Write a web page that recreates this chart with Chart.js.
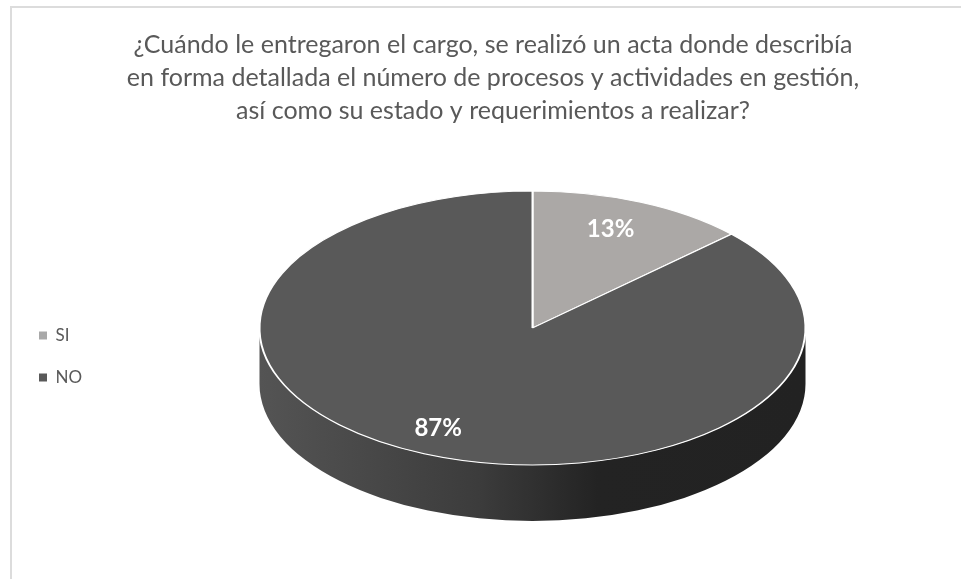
<!DOCTYPE html>
<html>
<head>
<meta charset="utf-8">
<title>Acta de entrega del cargo</title>
<script src="https://cdn.jsdelivr.net/npm/chart.js@4"></script>
<style>
    html, body { margin: 0; padding: 0; background: #fff; overflow: hidden; }
    #frame { position: absolute; left: 10px; top: 6px; right: 0; bottom: 0; border-left: 2px solid #dcdcdc; border-top: 2px solid #dcdcdc; }
    #pie { position: absolute; left: 0; top: 0; }
</style>
</head>
<body>
<div id="frame"></div>
<canvas id="pie" width="961" height="579"></canvas>
<script>
var titleLines = [
    "¿Cuándo le entregaron el cargo, se realizó un acta donde describía",
    "en forma detallada el número de procesos y actividades en gestión,",
    "así como su estado y requerimientos a realizar?"
];
var categories = ["SI", "NO"];
var percentages = [13, 87];
var sliceColors = ["#aba8a6", "#595959"];
var legendColors = ["#a8a8a8", "#595959"];

// how the flat pie is laid over as a tilted disc
var centerX = 532.5, centerY = 328;
var radiusX = 273, radiusY = 137, depth = 56;
// where the percent sits along the slice's middle angle
var labelReachX = [0.72, 0.87], labelReachY = [0.785, 0.795];
var legendDropY = 53, legendShiftX = -11;

var tiltedPie = {
    id: "tiltedPie",
    afterLayout: function(chart) {
        // the disc sits right of the legend, lower than the layout would put it
        chart.chartArea = {
            left: centerX - radiusX, right: centerX + radiusX,
            top: centerY - radiusX, bottom: centerY + radiusX,
            width: radiusX * 2, height: radiusX * 2
        };
        chart.legend.top += legendDropY;
        chart.legend.bottom += legendDropY;
        chart.legend.left += legendShiftX;
        chart.legend.right += legendShiftX;
    },
    beforeDatasetsDraw: function(chart) {
        var ctx = chart.ctx;
        var arc = chart.getDatasetMeta(0).data[0];
        var x = arc.x, y = arc.y;

        // rim below the front half of the disc
        var shade = ctx.createLinearGradient(x - radiusX, 0, x + radiusX, 0);
        shade.addColorStop(0, "#545454");
        shade.addColorStop(0.4, "#3c3c3c");
        shade.addColorStop(0.62, "#232323");
        shade.addColorStop(1, "#222222");
        ctx.save();
        ctx.beginPath();
        ctx.ellipse(x, y, radiusX, radiusY, 0, 0, Math.PI);
        ctx.ellipse(x, y + depth, radiusX, radiusY, 0, Math.PI, 0, true);
        ctx.closePath();
        ctx.fillStyle = shade;
        ctx.fill();
        ctx.restore();

        // squash the pie vertically around its centre
        ctx.save();
        ctx.translate(x, y);
        ctx.scale(1, radiusY / radiusX);
        ctx.translate(-x, -y);
    },
    afterDatasetsDraw: function(chart) {
        var ctx = chart.ctx;
        ctx.restore();

        ctx.save();
        ctx.fillStyle = "#ffffff";
        ctx.font = "bold 24px Lato";
        ctx.textAlign = "center";
        ctx.textBaseline = "middle";
        chart.getDatasetMeta(0).data.forEach(function(arc, i) {
            var mid = (arc.startAngle + arc.endAngle) / 2;
            var px = arc.x + Math.cos(mid) * radiusX * labelReachX[i];
            var py = arc.y + Math.sin(mid) * radiusY * labelReachY[i];
            ctx.fillText(percentages[i] + "%", px, py);
        });
        ctx.restore();
    }
};

new Chart(document.getElementById("pie"), {
    type: "pie",
    data: {
        labels: categories,
        datasets: [{
            data: percentages,
            backgroundColor: sliceColors,
            borderColor: "#ffffff",
            borderWidth: 2,
            clip: false
        }]
    },
    options: {
        responsive: false,
        animation: false,
        radius: radiusX,
        layout: { padding: { left: 25, right: 0, top: 28, bottom: 0 } },
        plugins: {
            title: {
                display: true,
                text: titleLines,
                color: "#595959",
                font: { family: "Lato", size: 25, weight: "normal", lineHeight: 1.32 },
                padding: { top: 0, bottom: 6 }
            },
            legend: {
                position: "left",
                labels: {
                    generateLabels: function() {
                        return categories.map(function(name, i) {
                            return { text: name, fillStyle: legendColors[i], strokeStyle: legendColors[i], lineWidth: 0, fontColor: "#595959", index: i };
                        });
                    },
                    boxWidth: 8,
                    boxHeight: 8,
                    padding: 25,
                    font: { family: "Lato", size: 17 }
                }
            },
            tooltip: { enabled: false }
        }
    },
    plugins: [tiltedPie]
});
</script>
</body>
</html>
